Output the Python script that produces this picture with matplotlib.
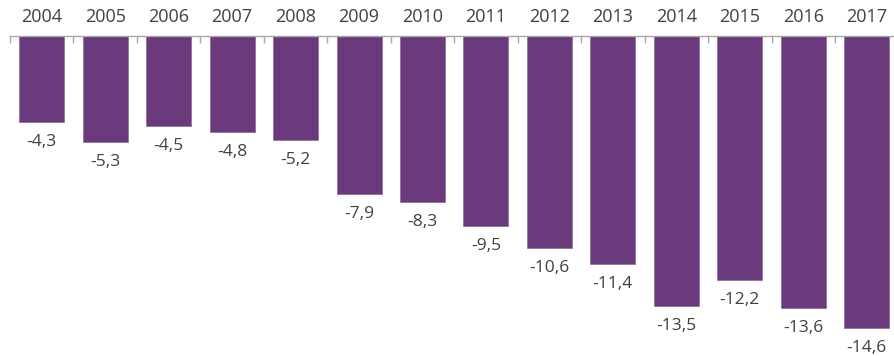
import matplotlib
matplotlib.use("Agg")
import matplotlib.pyplot as plt
import numpy as np

years = ["2004", "2005", "2006", "2007", "2008", "2009", "2010",
         "2011", "2012", "2013", "2014", "2015", "2016", "2017"]
values = [-4.3, -5.3, -4.5, -4.8, -5.2, -7.9, -8.3,
          -9.5, -10.6, -11.4, -13.5, -12.2, -13.6, -14.6]

bar_color = "#6B3A7D"
text_color = "#404040"

plt.rcParams['font.family'] = ['Open Sans', 'DejaVu Sans']

fig = plt.figure(figsize=(8.94, 3.56), dpi=100)
# axis line sits ~36px from top, axes runs to bottom of image
ax = fig.add_axes([10 / 894, 0, 14 * 63.46 / 894, 320 / 356])

x = np.arange(len(years))
ax.bar(x, values, width=0.71, color=bar_color, edgecolor="#8a6a96", linewidth=0.5)

for xi, v in zip(x, values):
    ax.text(xi, v - 1.0, f"{v:.1f}".replace(".", ","), ha="center", va="center",
            fontsize=12.5, color=text_color)

ax.set_xlim(-0.5, len(years) - 0.5)
ax.set_ylim(-16, 0)

for s in ["left", "right", "bottom"]:
    ax.spines[s].set_visible(False)
ax.spines["top"].set_color("#a6a6a6")
ax.spines["top"].set_linewidth(1)

ax.xaxis.tick_top()
ax.set_xticks(x)
ax.set_xticklabels(years, fontsize=13, color=text_color)
ax.tick_params(axis="x", which="major", length=0, pad=7)
ax.set_xticks(np.arange(len(years) + 1) - 0.5, minor=True)
ax.tick_params(axis="x", which="minor", direction="in", length=5,
               color="#a6a6a6", width=1, top=True)
ax.set_yticks([])

fig.savefig("out.png", dpi=100)
